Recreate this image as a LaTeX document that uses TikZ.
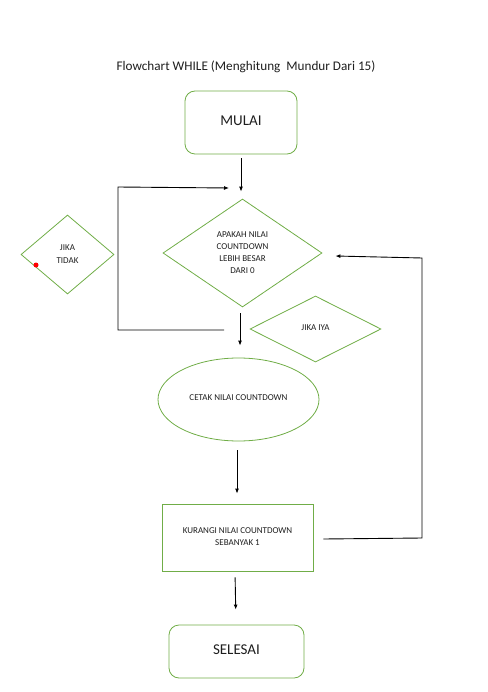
\documentclass[tikz,border=0pt]{standalone}
\usepackage{fontspec}
\setmainfont{Carlito}
\usetikzlibrary{shapes.geometric,arrows.meta}
\definecolor{ogreen}{HTML}{70AD47}
\definecolor{txt}{HTML}{1E1E1E}
\begin{document}
\begin{tikzpicture}[x=1pt,y=-1pt,
  shp/.style={draw=ogreen,line width=0.8pt,text=txt,inner sep=0pt,align=center},
  term/.style={shp,rounded corners=10pt,font=\fontsize{15}{18}\selectfont},
  dia/.style={shp,diamond,font=\fontsize{9}{12}\selectfont},
  small/.style={font=\fontsize{9}{12}\selectfont},
  arr/.style={draw=black,line width=0.9pt,-{Latex[length=5pt,width=4pt]}},
  ln/.style={draw=black,line width=0.9pt}]
\useasboundingbox (0,0) rectangle (487,692);
\node[text=txt,font=\fontsize{13.2}{15}\selectfont] (title) at (246,67) {Flowchart WHILE (Menghitung\ \ Mundur Dari 15)};
\node[term,minimum width=112pt,minimum height=63pt] (mulai) at (241,122.5) {\raisebox{3pt}{MULAI}};
\node[dia,minimum width=159pt,minimum height=108pt] (dec) at (242.5,253) {APAKAH NILAI\\COUNTDOWN\\LEBIH BESAR\\DARI 0};
\node[dia,minimum width=93pt,minimum height=79pt] (tidak) at (67.5,254.5) {\raisebox{3pt}{\begin{tabular}{@{}c@{}}JIKA\\[1pt]TIDAK\end{tabular}}};
\node[circle,fill=red,inner sep=0pt,minimum size=5pt] (dot) at (36,265) {};
\node[dia,minimum width=131pt,minimum height=66pt] (iya) at (315.5,329) {\raisebox{3pt}{JIKA IYA}};
\node[shp,ellipse,minimum width=161pt,minimum height=83pt,small] (cetak) at (238.5,399.5) {\raisebox{3pt}{CETAK NILAI COUNTDOWN}};
\node[shp,rectangle,minimum width=151pt,minimum height=67pt,small] (kurangi) at (237.5,537.5) {\raisebox{3pt}{\begin{tabular}{@{}c@{}}KURANGI NILAI COUNTDOWN\\SEBANYAK 1\end{tabular}}};
\node[term,minimum width=135pt,minimum height=53pt] (selesai) at (236.5,651.5) {\raisebox{3pt}{SELESAI}};
% connectors
\draw[arr,shorten <=4pt,shorten >=7pt] (mulai.south) -- (mulai.south |- dec.north);
\coordinate (l1) at (224,330);
\coordinate (l2) at (118,330);
\coordinate (l3) at (118,187);
\coordinate (l4) at (229,188);
\draw[arr] (l1) -- (l2) -- (l3) -- (l4);
\draw[arr,shorten <=6pt,shorten >=12pt] ([xshift=-2.5pt]dec.south) -- ([xshift=1.5pt]cetak.north);
\draw[arr,shorten <=9pt,shorten >=10pt] ([xshift=-1.5pt]cetak.south) -- ([xshift=-0.5pt]kurangi.north);
\draw[arr,shorten <=6pt,shorten >=15pt] ([xshift=-2.5pt]kurangi.south) -- ([xshift=-0.5pt]selesai.north);
\coordinate (r1) at (422,538);
\coordinate (r2) at (422,258);
\draw[arr] ([xshift=10pt,yshift=-1.5pt]kurangi.east) -- (r1) -- (r2) -- ([xshift=13pt,yshift=-3pt]dec.east);
\end{tikzpicture}
\end{document}
